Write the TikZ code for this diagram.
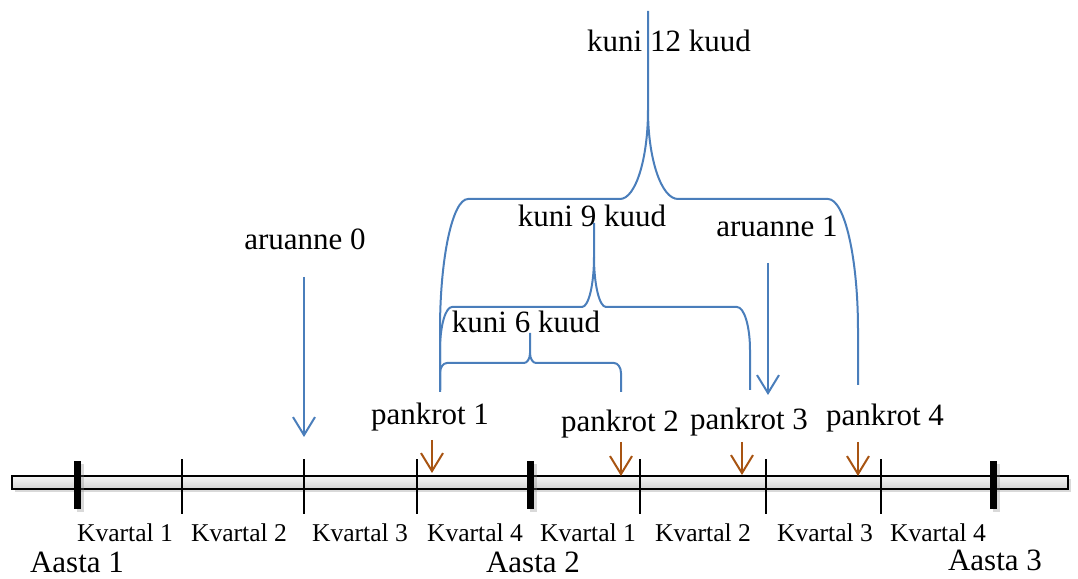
\documentclass[tikz,border=0pt]{standalone}
\usepackage{fontspec}
\setmainfont{Liberation Serif}
\usepackage{xcolor}
\usepackage{tikz}
\usetikzlibrary{arrows.meta,shadows,positioning}
\definecolor{lineblue}{RGB}{74,126,187}
\definecolor{arrowbrown}{RGB}{168,84,18}

\begin{document}
\begin{tikzpicture}[x=0.5pt,y=0.5pt]
\tikzstyle{big}=[inner sep=0pt, anchor=base, font=\fontsize{15.5}{18}\selectfont]
\tikzstyle{small}=[inner sep=0pt, anchor=base, font=\fontsize{12.8}{15}\selectfont]
\tikzstyle{brace}=[lineblue, line width=1pt]
\tikzstyle{report}=[-{Straight Barb[length=9pt,width=11pt]}, lineblue, line width=1pt]
\tikzstyle{crash}=[-{Straight Barb[length=9pt,width=11pt]}, arrowbrown, line width=1pt]
\tikzstyle{bar}=[rectangle, draw=black, line width=0.75pt, inner sep=0pt, top color=gray!8, bottom color=gray!35, drop shadow={opacity=0.3, shadow xshift=1.5pt, shadow yshift=-1.5pt}]
\tikzstyle{year}=[fill=black, drop shadow={opacity=0.3, shadow xshift=1.5pt, shadow yshift=-1.5pt}]
\tikzstyle{quarter}=[black, line width=1pt]
\useasboundingbox (0,0) rectangle (1078,579);

  % time axis
  \node[bar, minimum width=528pt, minimum height=6.5pt] (axis) at (540,96.5) {};
  \foreach \x in {77,530,993}
    \path[year] (\x-3.5,70) rectangle (\x+3.5,118);
  \foreach \x in {182,304,417,640,766,881}
    \draw[quarter] (\x,65) -- (\x,120);
  \foreach \x/\n in {125/1,239/2,360/3,475/4,588/1,703/2,825/3,938/4}
    \node[small] (kv\x) at (\x,37) {Kvartal \n};
  \node[big] (aasta1) at (77,6) {Aasta 1};
  \node[big] (aasta2) at (533,6) {Aasta 2};
  \node[big] (aasta3) at (995,8) {Aasta 3};

  % bankruptcies
  \node[big] (pankrot1) at (430,154) {pankrot 1};
  \node[big] (pankrot2) at (620,147) {pankrot 2};
  \node[big] (pankrot3) at (749,149) {pankrot 3};
  \node[big] (pankrot4) at (885,153) {pankrot 4};
  \foreach \i/\x/\t/\b in {1/432/139/106,2/621/137/103,3/742/137/104,4/858/137/103}{
    \coordinate (c\i top) at (\x,\t);
    \coordinate (c\i) at (\x,\b);
    \draw[crash] (c\i top) -- (c\i);
  }

  % reports
  \node[big] (aruanne0) at (305,329) {aruanne 0};
  \node[big] (aruanne1) at (777,342) {aruanne 1};
  \coordinate (r0top) at (304,302);
  \coordinate (r0) at (304,142);
  \coordinate (r1top) at (768,316);
  \coordinate (r1) at (768,184);
  \path (r0top) edge [report] (r0)
        (r1top) edge [report] (r1);

  % braces
  \draw[brace] (440,187) -- (440,206) arc[start angle=180, end angle=90, x radius=7, y radius=10]
    -- (524,216) arc[start angle=270, end angle=360, x radius=6, y radius=10] -- (530,246);
  \draw[brace] (530,226) arc[start angle=180, end angle=270, x radius=6, y radius=10]
    -- (614,216) arc[start angle=90, end angle=0, x radius=7, y radius=10] -- (621,187);
  \draw[brace] (440,189) -- (440,229) arc[start angle=180, end angle=90, x radius=12, y radius=43]
    -- (582,272) arc[start angle=270, end angle=360, x radius=12, y radius=50] -- (594,356);
  \draw[brace] (594,322) arc[start angle=180, end angle=270, x radius=12, y radius=50]
    -- (737,272) arc[start angle=90, end angle=0, x radius=13, y radius=43] -- (750,189);
  \draw[brace] (440,189) -- (440,249) arc[start angle=180, end angle=90, x radius=28, y radius=131]
    -- (620,380) arc[start angle=270, end angle=360, x radius=28, y radius=89] -- (648,568);
  \draw[brace] (648,469) arc[start angle=180, end angle=270, x radius=30, y radius=89]
    -- (828,380) arc[start angle=90, end angle=0, x radius=30, y radius=131] -- (858,194);

  \node[big] (kuni6) at (526,246) {kuni 6 kuud};
  \node[big] (kuni9) at (592,352) {kuni 9 kuud};
  \node[big] (kuni12) at (669,527) {kuni 12 kuud};
\end{tikzpicture}
\end{document}
